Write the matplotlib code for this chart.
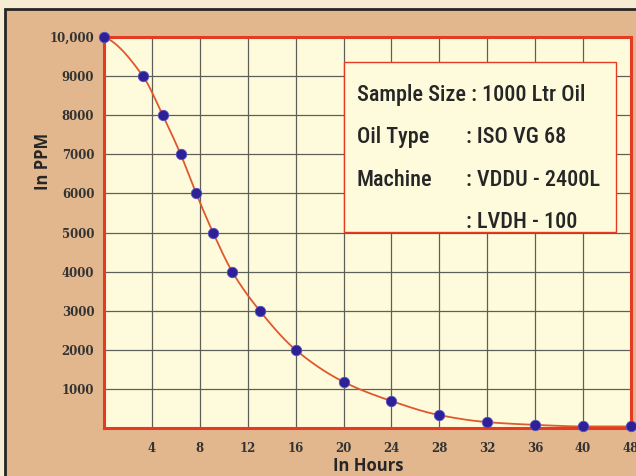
import numpy as np
import matplotlib
matplotlib.use("Agg")
from matplotlib import pyplot as plt
from matplotlib import font_manager
from matplotlib.patches import Rectangle

# ---------------------------------------------------------------- data
hours = [0, 3.25, 4.9, 6.4, 7.7, 9.1, 10.7, 13.0, 16, 20, 24, 28, 32, 36, 40, 48]
ppm = [10000, 9000, 8000, 7000, 6000, 5000, 4000, 3000, 2000,
       1180, 690, 330, 150, 80, 40, 40]

x_tick_labels = ["4", "8", "12", "16", "20", "24", "28", "32", "36", "40", "48"]
y_ticks = [1000, 2000, 3000, 4000, 5000, 6000, 7000, 8000, 9000, 10000]
y_tick_labels = ["1000", "2000", "3000", "4000", "5000", "6000", "7000",
                 "8000", "9000", "10,000"]

info_left = ["Oil Type", "Machine", ""]
info_right = [": ISO VG 68", ": VDDU - 2400L", ": LVDH - 100"]
info_first = "Sample Size : 1000 Ltr Oil"

# ---------------------------------------------------------------- helpers
W, H = 636, 476


def fpx(x, y):
    """figure pixels (top-left origin) -> figure fraction"""
    return x / W, 1 - y / H


def axis_pos(h):
    # the last label (48) sits one step after 40, like the others
    return np.interp(h, [0, 40, 48], [0, 40, 44])


def pchip(x, y, xs):
    x = np.asarray(x, float); y = np.asarray(y, float)
    h = np.diff(x); d = np.diff(y) / h
    m = np.zeros_like(y)
    for k in range(1, len(x) - 1):
        if d[k - 1] * d[k] > 0:
            w1 = 2 * h[k] + h[k - 1]
            w2 = h[k] + 2 * h[k - 1]
            m[k] = (w1 + w2) / (w1 / d[k - 1] + w2 / d[k])
    m[0] = ((2 * h[0] + h[1]) * d[0] - h[0] * d[1]) / (h[0] + h[1])
    if np.sign(m[0]) != np.sign(d[0]):
        m[0] = 0
    m[-1] = ((2 * h[-1] + h[-2]) * d[-1] - h[-1] * d[-2]) / (h[-1] + h[-2])
    if np.sign(m[-1]) != np.sign(d[-1]):
        m[-1] = 0
    idx = np.clip(np.searchsorted(x, xs) - 1, 0, len(h) - 1)
    t = (xs - x[idx]) / h[idx]
    h00 = 2 * t**3 - 3 * t**2 + 1
    h10 = t**3 - 2 * t**2 + t
    h01 = -2 * t**3 + 3 * t**2
    h11 = t**3 - t**2
    return (h00 * y[idx] + h10 * h[idx] * m[idx]
            + h01 * y[idx + 1] + h11 * h[idx] * m[idx + 1])


def pick_font(names):
    for n in names:
        try:
            font_manager.findfont(n, fallback_to_default=False)
            return n
        except Exception:
            pass
    return "DejaVu Sans"


NARROW = pick_font(["Liberation Sans Narrow", "Roboto Condensed", "Open Sans Condensed", "Roboto"])

# ---------------------------------------------------------------- styling
CREAM_BG = "#f5ecd3"
TAN = "#e2b78d"
PLOT_BG = "#fefbdc"
RED = "#e53b22"
CURVE = "#e0582c"
DOT = "#2c2196"
GRID = "#5f5f5a"
INK = "#262626"

fig = plt.figure(figsize=(W / 100, H / 100), dpi=100)
fig.patch.set_facecolor(CREAM_BG)

# tan panel with dark top/left border
x0, y0 = fpx(5, 9)
fig.patches.append(Rectangle((x0, -0.1), 1.2, y0 + 0.1, transform=fig.transFigure,
                             facecolor=TAN, edgecolor="#262626", lw=2.0, zorder=-5))

l, t = fpx(104, 37)
r, b = fpx(631, 428)
ax = fig.add_axes([l, b, r - l, t - b])
ax.set_zorder(2)
ax.set_facecolor(PLOT_BG)
ax.set_xlim(0, 44)
ax.set_ylim(0, 10000)

ax.set_xticks(np.arange(4, 45, 4))
ax.set_xticklabels(x_tick_labels)
ax.set_yticks(y_ticks)
ax.set_yticklabels(y_tick_labels)
ax.tick_params(length=0, colors=INK)
ax.tick_params(axis="x", pad=10)
ax.tick_params(axis="y", pad=7)
for lab in ax.get_xticklabels() + ax.get_yticklabels():
    lab.set_family("DejaVu Serif")
    lab.set_weight("bold")
    lab.set_fontsize(8.5)
    lab.set_color("#333333")

ax.grid(True, color=GRID, lw=0.9, zorder=1)
ax.set_axisbelow(True)
for s in ax.spines.values():
    s.set_color(RED)
    s.set_linewidth(2.2)
    s.set_zorder(5)

# the smooth decay curve and sample points
px_ = axis_pos(hours)
xs = np.linspace(px_[0], px_[-1], 600)
ax.plot(xs, pchip(px_, ppm, xs), color=CURVE, lw=1.3, zorder=3)
ax.plot(px_, ppm, "o", color=DOT, ms=7.5, mec="#5a4fc0", mew=0.6,
        zorder=6, clip_on=False)

# info box
bx0 = (344 - 104) / (631 - 104) * 44
bx1 = (616 - 104) / (631 - 104) * 44
by1 = (428 - 62) / (428 - 37) * 10000
by0 = (428 - 232) / (428 - 37) * 10000
ax.add_patch(Rectangle((bx0, by0), bx1 - bx0, by1 - by0, facecolor=PLOT_BG,
                       edgecolor=RED, lw=1.0, zorder=4))

txt = dict(family=NARROW, fontsize=16, weight="medium", color=INK, va="baseline",
           zorder=10)
fig.text(*fpx(357, 101), info_first, **txt)
for i, (a, c) in enumerate(zip(info_left, info_right)):
    yb = 143 + i * 42.5
    if a:
        fig.text(*fpx(357, yb), a, **txt)
    fig.text(*fpx(466, yb), c, **txt)

# axis titles
fig.text(*fpx(368, 466), "In Hours", ha="center", va="center",
         family="Open Sans", weight="bold", fontsize=12, color=INK)
fig.text(*fpx(43, 161), "In PPM", ha="center", va="center", rotation=90,
         family="Open Sans", weight="bold", fontsize=12, color=INK)

fig.savefig("out.png", dpi=100, facecolor=fig.get_facecolor())
